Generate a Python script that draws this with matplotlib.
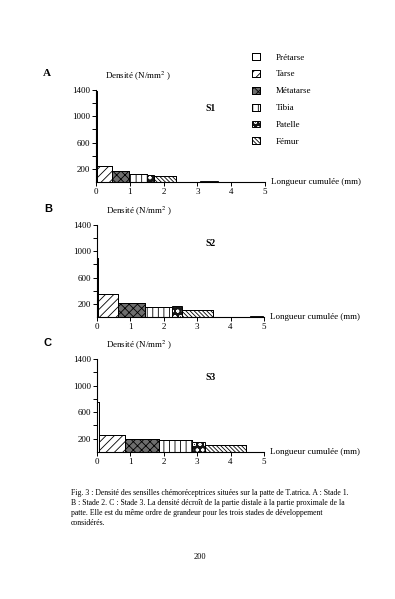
import matplotlib
matplotlib.use("Agg")
import matplotlib.pyplot as plt
import numpy as np

plt.rcParams['font.family'] = ['Liberation Serif', 'DejaVu Serif']
plt.rcParams['mathtext.fontset'] = 'stix'
plt.rcParams['hatch.linewidth'] = 0.6

# Segments de la patte (du distal au proximal)
segments = ['Prétarse', 'Tarse', 'Métatarse', 'Tibia', 'Patelle', 'Fémur']

# Longueur de chaque segment (mm), par stade
long_s1 = [0.03, 0.44, 0.50, 0.53, 0.23, 0.64]
long_s2 = [0.04, 0.59, 0.80, 0.82, 0.28, 0.94]
long_s3 = [0.07, 0.77, 1.03, 0.97, 0.40, 1.22]

# Densite des sensilles (N/mm2), par stade
dens_s1 = [1380, 248, 172, 117, 112, 90]
dens_s2 = [893, 350, 218, 157, 162, 107]
dens_s3 = [760, 252, 192, 177, 156, 106]

# petits segments proximaux quasi sans sensilles (debut, longueur, densite)
reste_s1 = ([3.09], [0.53], [8])
reste_s2 = ([4.57], [0.40], [8])
reste_s3 = ([], [], [])

# fond + hachure ; la patelle a une hachure blanche sur fond noir
styles = {
    'Prétarse':  dict(facecolor='white', edgecolor='black', hatch=None),
    'Tarse':     dict(facecolor='white', edgecolor='black', hatch='////'),
    'Métatarse': dict(facecolor='#6e6e6e', edgecolor='black', hatch='xxxx'),
    'Tibia':     dict(facecolor='white', edgecolor='black', hatch='|||'),
    'Patelle':   dict(facecolor='#151515', edgecolor='white', hatch='ooo'),
    'Fémur':     dict(facecolor='white', edgecolor='black', hatch='\\\\\\\\\\\\\\\\'),
}

W, H = 395, 599
fig = plt.figure(figsize=(W / 100, H / 100), dpi=100)

panneaux = [
    ('A', 'S1', long_s1, dens_s1, reste_s1, (96, 265, 182, 90), 'Liberation Serif'),
    ('B', 'S2', long_s2, dens_s2, reste_s2, (97, 264, 317, 225), 'Liberation Sans'),
    ('C', 'S3', long_s3, dens_s3, reste_s3, (97, 264, 452, 359), 'Liberation Sans'),
]

handles = []
for lettre, stade, longs, dens, reste, (x0, x1, y0, y1), police in panneaux:
    ax = fig.add_axes([x0 / W, 1 - y0 / H, (x1 - x0) / W, (y0 - y1) / H])
    gauches = np.concatenate([[0], np.cumsum(longs)[:-1]])
    hs = []
    for seg, g, l, d in zip(segments, gauches, longs, dens):
        fond = ax.bar(g, d, width=l, align='edge', linewidth=0.7, **styles[seg])
        contour = ax.bar(g, d, width=l, align='edge', fill=False,
                         edgecolor='black', linewidth=0.7)
        hs.append((fond[0], contour[0]))
    if len(reste[0]):
        ax.bar(reste[0], reste[2], width=reste[1], align='edge',
               facecolor='black', edgecolor='black', linewidth=0.6)
    if not handles:
        handles = hs

    ax.set_xlim(0, 5)
    ax.set_ylim(0, 1400)
    ax.set_xticks([0, 1, 2, 3, 4, 5])
    ax.set_yticks([200, 600, 1000, 1400])
    ax.set_yticks([400, 800, 1200], minor=True)
    ax.tick_params(labelsize=6.5, length=3, width=0.7, pad=1.5)
    ax.tick_params(which='minor', length=3, width=0.7)
    for s in ['top', 'right']:
        ax.spines[s].set_visible(False)
    for s in ['left', 'bottom']:
        ax.spines[s].set_linewidth(0.8)
    ax.patch.set_alpha(0)

    fig.text((x0 - 53) / W, 1 - (y1 - 16) / H, lettre, family=police,
             fontweight='bold', fontsize=8, va='center', ha='left')
    fig.text((x0 + 9) / W, 1 - (y1 - 14) / H, r'Densité (N/mm$^{2}$ )',
             fontsize=6.5, va='center', ha='left')
    ax.text(0.68, 0.8, stade, transform=ax.transAxes, fontsize=7,
            fontweight='bold', ha='center', va='center')
    fig.text((x1 + 6) / W, 1 - y0 / H, 'Longueur cumulée (mm)',
             fontsize=6.5, va='center', ha='left')

fig.legend(handles=handles, labels=segments, loc='upper left',
           bbox_to_anchor=(252 / W, 1 - 53 / H), frameon=False, fontsize=6.5,
           handlelength=0.9, handleheight=0.8, labelspacing=0.92,
           handletextpad=1.7, borderaxespad=0, borderpad=0)

legende = [
    "Fig. 3 : Densité des sensilles chémoréceptrices situées sur la patte de T.atrica. A : Stade 1.",
    "B : Stade 2. C : Stade 3. La densité décroît de la partie distale à la partie proximale de la",
    "patte. Elle est du même ordre de grandeur pour les trois stades de développement",
    "considérés.",
]
for i, ligne in enumerate(legende):
    fig.text(71 / W, 1 - (493 + 10 * i) / H, ligne, fontsize=5.6,
             va='center', ha='left')
fig.text(200 / W, 1 - 557 / H, '200', fontsize=6, va='center', ha='center')

fig.savefig('out.png', dpi=100, facecolor='white')
